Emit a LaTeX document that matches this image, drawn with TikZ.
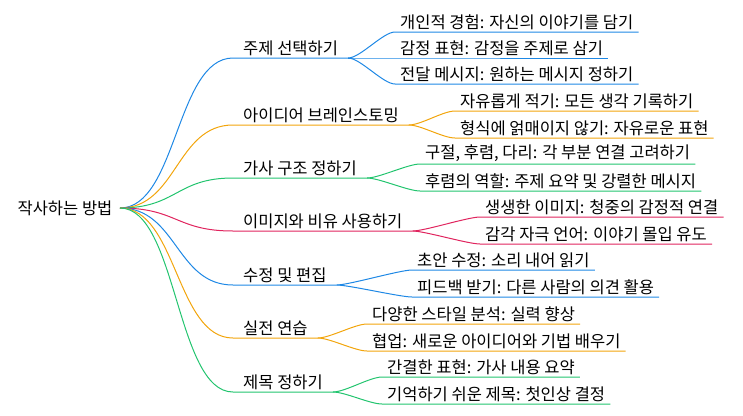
\documentclass[tikz,border=0pt]{standalone}
\usepackage{fontspec}
\setmainfont{Noto Sans CJK KR}
\usetikzlibrary{positioning}
\definecolor{cblue}{HTML}{1E88E5}
\definecolor{corange}{HTML}{F2A50C}
\definecolor{cgreen}{HTML}{22C46E}
\definecolor{cred}{HTML}{E0245E}
\begin{document}
\begin{tikzpicture}[x=1pt,y=-1pt,
		topic/.style={anchor=south west, inner xsep=10pt, inner ysep=2pt, font=\fontsize{16.5}{18}\selectfont},
		leaf/.style={anchor=south west, inner xsep=5pt, inner ysep=2pt, font=\fontsize{16.5}{18}\selectfont},
		edge/.style={line width=1pt}]
	\useasboundingbox (0,0) rectangle (743,415);
	\node[font=\fontsize{16.5}{18}\selectfont] (root) at (65,208) {작사하는 방법};
	\coordinate (r) at (120,208);
	% branches
	\node[topic] (b1) at (233,58) {주제 선택하기};
	\node[topic] (b2) at (233,125) {아이디어 브레인스토밍};
	\node[topic] (b3) at (233,178) {가사 구조 정하기};
	\node[topic] (b4) at (233,231) {이미지와 비유 사용하기};
	\node[topic] (b5) at (233,285) {수정 및 편집};
	\node[topic] (b6) at (233,338) {실전 연습};
	\node[topic] (b7) at (233,392) {제목 정하기};
	% leaves
	\node[leaf] (l11) at (395,32) {개인적 경험: 자신의 이야기를 담기};
	\node[leaf] (l12) at (395,58) {감정 표현: 감정을 주제로 삼기};
	\node[leaf] (l13) at (395,84) {전달 메시지: 원하는 메시지 정하기};
	\node[leaf] (l21) at (455,111) {자유롭게 적기: 모든 생각 기록하기};
	\node[leaf] (l22) at (455,138) {형식에 얽매이지 않기: 자유로운 표현};
	\node[leaf] (l31) at (420,164) {구절, 후렴, 다리: 각 부분 연결 고려하기};
	\node[leaf] (l32) at (420,191) {후렴의 역할: 주제 요약 및 강렬한 메시지};
	\node[leaf] (l41) at (480,217) {생생한 이미지: 청중의 감정적 연결};
	\node[leaf] (l42) at (480,244) {감각 자극 언어: 이야기 몰입 유도};
	\node[leaf] (l51) at (412,270) {초안 수정: 소리 내어 읽기};
	\node[leaf] (l52) at (412,297) {피드백 받기: 다른 사람의 의견 활용};
	\node[leaf] (l61) at (367,324) {다양한 스타일 분석: 실력 향상};
	\node[leaf] (l62) at (367,351) {협업: 새로운 아이디어와 기법 배우기};
	\node[leaf] (l71) at (382,377) {간결한 표현: 가사 내용 요약};
	\node[leaf] (l72) at (382,404) {기억하기 쉬운 제목: 첫인상 결정};
	% connectors
	\foreach \b/\c/\ls in {b1/cblue/{l11,l12,l13}, b2/corange/{l21,l22}, b3/cgreen/{l31,l32},
			b4/cred/{l41,l42}, b5/cblue/{l51,l52}, b6/corange/{l61,l62}, b7/cgreen/{l71,l72}}{
		\draw[edge,\c] (r) .. controls +(57,0) and +(-57,0) .. (\b.south west) -- (\b.south east);
		\foreach \l in \ls {
			\draw[edge,\c] (\b.south east) .. controls +(12,0) and +(-12,0) .. (\l.south west) -- (\l.south east);
		}
	}
\end{tikzpicture}
\end{document}
